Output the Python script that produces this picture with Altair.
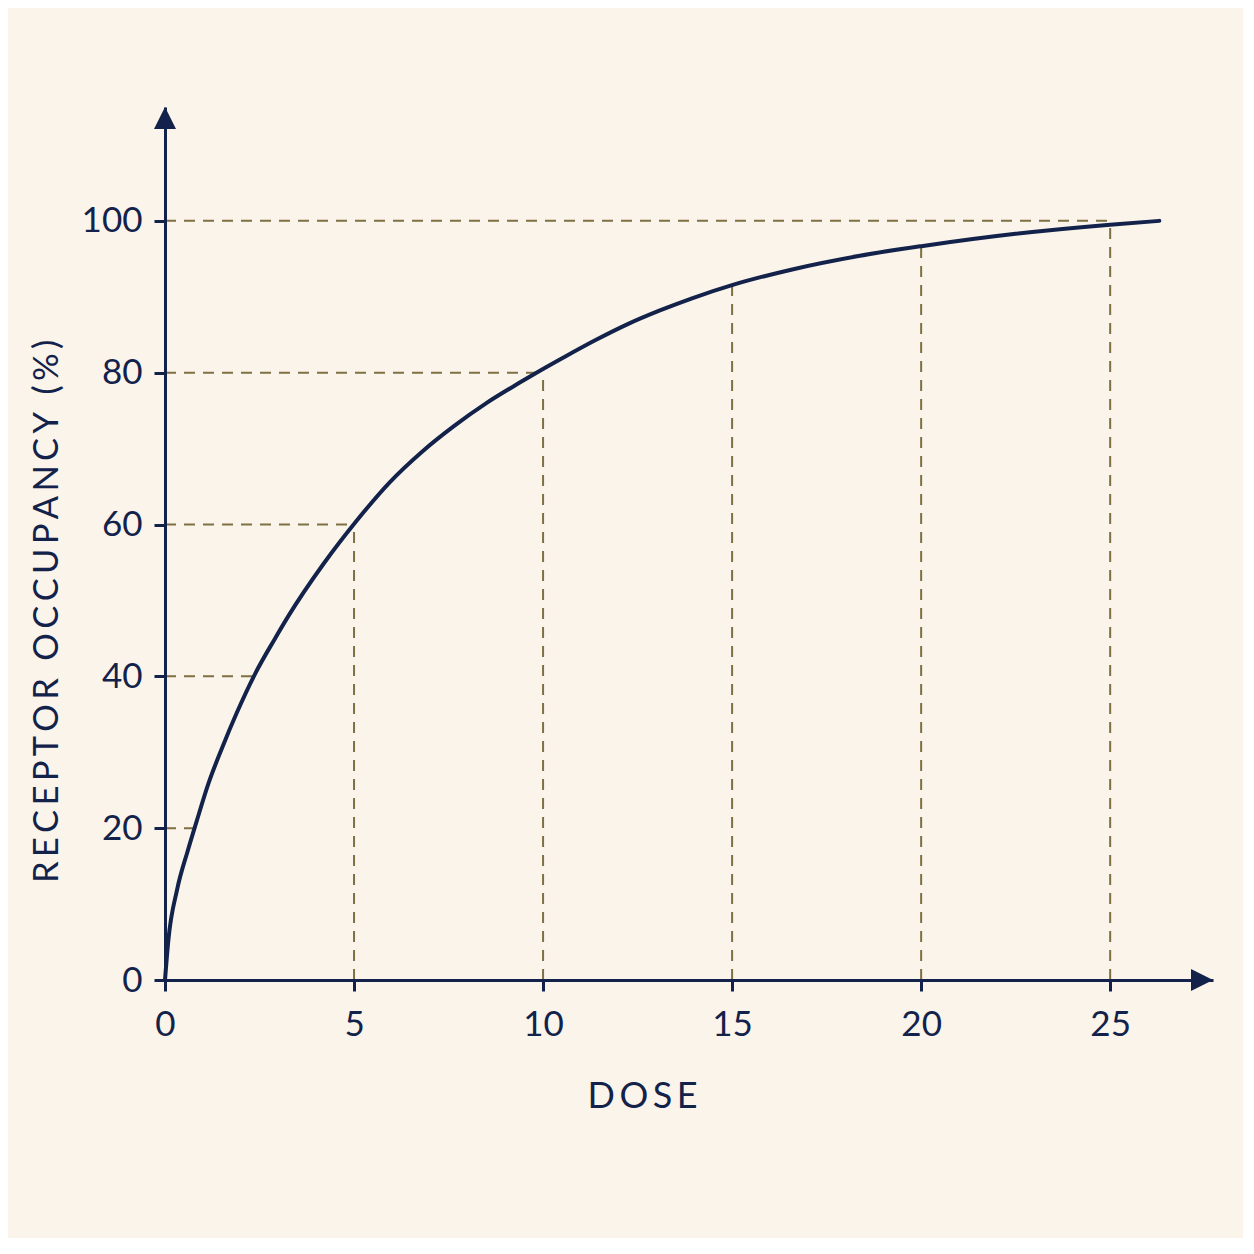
import altair as alt
import pandas as pd

# ---- data ----
dose = [0, 0.09, 0.32, 0.60, 0.83, 1.15, 1.52, 1.89, 2.40, 2.90, 3.27, 4.19, 5.02, 5.95,
        6.80, 7.65, 8.50, 9.35, 9.69, 10.54, 11.39, 12.24, 13.09, 13.94, 15.04, 16.59,
        18.38, 20.05, 22.50, 25.00, 26.30]
occupancy = [0, 5.3, 11.9, 17.0, 20.8, 25.9, 30.7, 35.1, 40.5, 44.9, 48.0, 54.8, 60.2, 65.6,
             69.6, 73.0, 76.0, 78.6, 79.6, 82.0, 84.3, 86.4, 88.2, 89.8, 91.6, 93.6,
             95.4, 96.7, 98.3, 99.5, 100.0]

h_guide_y = [20, 40, 60, 80, 100]
h_guide_x_end = [0.83, 2.35, 5.0, 10.0, 25.0]
v_guide_x = [5, 10, 15, 20, 25]
v_guide_y_end = [60.0, 80.0, 91.6, 96.7, 100.0]

x_ticks = [0, 5, 10, 15, 20, 25]
y_ticks = [0, 20, 40, 60, 80, 100]

X_MAX = 27.72
Y_MAX = 115.0

NAVY = "#13224a"
OLIVE = "#7f7043"
BG = "#fbf4ea"
FONT = "Lato"

curve_df = pd.DataFrame({"dose": dose, "occ": occupancy})
h_df = pd.DataFrame({"y": h_guide_y, "x0": [0] * len(h_guide_y), "x1": h_guide_x_end})
v_df = pd.DataFrame({"x": v_guide_x, "y0": [0] * len(v_guide_x), "y1": v_guide_y_end})
xarrow_df = pd.DataFrame({"x": [X_MAX], "y": [0]})
yarrow_df = pd.DataFrame({"x": [0], "y": [Y_MAX]})

xscale = alt.Scale(domain=[0, X_MAX], nice=False, zero=False)
yscale = alt.Scale(domain=[0, Y_MAX], nice=False, zero=False)

TS = "\u2009"
x_title = TS.join("DOSE")
y_title = TS.join("RECEPTOR OCCUPANCY (%)")

xaxis = alt.Axis(
    values=x_ticks, title=x_title, grid=False,
    domainColor=NAVY, domainWidth=3, tickColor=NAVY, tickWidth=3, tickSize=11,
    labelFont=FONT, labelFontSize=35, labelColor=NAVY, labelPadding=16,
    labelFlush=False, labelOverlap=False,
    titleFont=FONT, titleFontSize=36, titleColor=NAVY, titleFontWeight="normal",
    titleX=477, titleY=116, titleAlign="center", titleBaseline="middle",
    zindex=2,
)
yaxis = alt.Axis(
    values=y_ticks, title=y_title, grid=False,
    domainColor=NAVY, domainWidth=3, tickColor=NAVY, tickWidth=3, tickSize=11,
    labelFont=FONT, labelFontSize=35, labelColor=NAVY, labelPadding=12,
    labelFlush=False, labelOverlap=False,
    titleFont=FONT, titleFontSize=34.5, titleColor=NAVY, titleFontWeight="normal",
    titleAngle=270, titleX=-118, titleY=504, titleAlign="center", titleBaseline="middle",
    zindex=2,
)

h_guides = alt.Chart(h_df).mark_rule(color=OLIVE, strokeWidth=2, strokeDash=[11, 8]).encode(
    x=alt.X("x0:Q", scale=xscale, axis=xaxis),
    x2="x1:Q",
    y=alt.Y("y:Q", scale=yscale, axis=yaxis),
)
v_guides = alt.Chart(v_df).mark_rule(color=OLIVE, strokeWidth=2, strokeDash=[11, 8]).encode(
    x=alt.X("x:Q", scale=xscale, axis=xaxis),
    y=alt.Y("y0:Q", scale=yscale, axis=yaxis),
    y2="y1:Q",
)
curve = alt.Chart(curve_df).mark_line(
    color=NAVY, strokeWidth=4, interpolate="monotone", strokeCap="round"
).encode(
    x=alt.X("dose:Q", scale=xscale, axis=xaxis),
    y=alt.Y("occ:Q", scale=yscale, axis=yaxis),
)
xarrow = alt.Chart(xarrow_df).mark_point(
    shape="M-2,-1L0,0L-2,1Z", size=484, filled=True, color=NAVY, opacity=1, strokeWidth=0
).encode(
    x=alt.X("x:Q", scale=xscale, axis=xaxis),
    y=alt.Y("y:Q", scale=yscale, axis=yaxis),
)
yarrow = alt.Chart(yarrow_df).mark_point(
    shape="M-1,2L0,0L1,2Z", size=484, filled=True, color=NAVY, opacity=1, strokeWidth=0
).encode(
    x=alt.X("x:Q", scale=xscale, axis=xaxis),
    y=alt.Y("y:Q", scale=yscale, axis=yaxis),
)

chart = alt.layer(h_guides, v_guides, curve, xarrow, yarrow).properties(
    width=1048, height=873,
    autosize=alt.AutoSizeParams(type="none"),
    padding={"left": 157, "top": 99, "right": 30, "bottom": 258},
    background=BG,
).configure_view(stroke=None)

chart.save("out.html", embed_options={"renderer": "svg", "actions": False})
